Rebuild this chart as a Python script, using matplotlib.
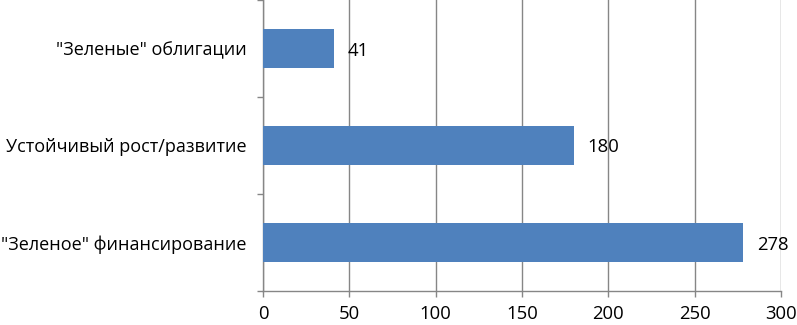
import matplotlib
matplotlib.use("Agg")
import matplotlib.pyplot as plt
import numpy as np

categories = ['"Зеленое" финансирование', 'Устойчивый рост/развитие', '"Зеленые" облигации']
values = [278, 180, 41]
xticks = [0, 50, 100, 150, 200, 250, 300]

plt.rcParams['font.family'] = ['Open Sans', 'DejaVu Sans']
fig = plt.figure(figsize=(7.97, 3.25), dpi=100)
ax = fig.add_axes([263/797, 1 - 291/325, (781 - 263)/797, 291/325])

gray = '#868686'
y = np.arange(len(categories))
ax.barh(y, values, height=0.4, color='#4F81BD', zorder=3)
for yi, v in zip(y, values):
    ax.text(v + 8, yi, str(v), va='center_baseline', ha='left', fontsize=13.3, color='black')

ax.set_xlim(0, 300)
ax.set_ylim(-0.5, len(categories) - 0.5)
ax.set_xticks(xticks)
ax.set_xticklabels([str(t) for t in xticks], fontsize=13.3)
ax.xaxis.grid(True, color=gray, linewidth=1, zorder=0)

ax.set_yticks(y)
ax.set_yticklabels(categories, fontsize=13, va='center_baseline')
ax.tick_params(axis='y', which='major', length=0, pad=12)
ax.set_yticks(np.arange(-0.5, len(categories)), minor=True)
ax.tick_params(axis='y', which='minor', length=4, color=gray, direction='out', width=1)
ax.tick_params(axis='x', length=4, color=gray, direction='out', width=1, pad=6)

for s in ['top', 'right']:
    ax.spines[s].set_visible(False)
for s in ['left', 'bottom']:
    ax.spines[s].set_color(gray)
    ax.spines[s].set_linewidth(1)

fig.savefig('out.png', dpi=100)
